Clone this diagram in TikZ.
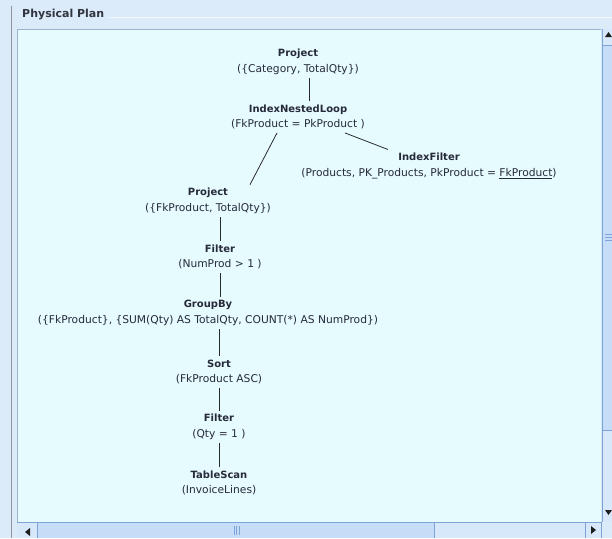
\documentclass[tikz,border=0pt]{standalone}
\usepackage{fontspec}
\setmainfont{DejaVu Sans}
\usepackage{tikz}

\definecolor{winbg}{HTML}{DCEBFA}
\definecolor{panelbg}{HTML}{E6FBFE}
\definecolor{panelline}{HTML}{9DB3CC}
\definecolor{framegray}{HTML}{8C939C}
\definecolor{titletext}{HTML}{30353F}
\definecolor{optext}{HTML}{262A3A}
\definecolor{linkcol}{HTML}{2A2A2A}
\definecolor{trackbg}{HTML}{D8E8FB}
\definecolor{thumbbg}{HTML}{C6DDF8}
\definecolor{thumbline}{HTML}{7EA3D8}
\definecolor{arrowcol}{HTML}{1E1E1E}

\newcommand{\opname}[1]{{\fontsize{10}{15.5}\selectfont\bfseries #1}}

\begin{document}
\begin{tikzpicture}[x=1pt, y=-1pt,
    op/.style={align=center, inner xsep=2pt, inner ysep=3.5pt, text=optext,
        font=\fontsize{10.7}{15.5}\selectfont},
    link/.style={draw=linkcol, line width=0.8pt}]

% Window frame
\useasboundingbox (0,0) rectangle (612,538);
\fill[winbg] (0,0) rectangle (612,538);
\draw[framegray] (11,6) -- (11,538);
\draw[white!60!winbg] (108,17) -- (612,17);
\node[anchor=west, inner sep=0pt, text=titletext,
    font=\bfseries\fontsize{11}{13}\selectfont] (title) at (22,15) {Physical Plan};
\fill[panelbg] (17,29) rectangle (601,522);
\draw[panelline] (17,522) -- (17,29) -- (601,29);

% Vertical scroll bar
\fill[trackbg] (601,29) rectangle (612,522);
\fill[thumbbg] (602,45) rectangle (612,430);
\draw[thumbline] (602,29) -- (602,522);
\draw[thumbline] (602,45) -- (612,45);
\draw[thumbline] (602,430) -- (612,430);
\foreach \y in {234,237,240}
    \draw[thumbline] (605,\y) -- (612,\y);
\fill[arrowcol] (608.5,32) -- (605,37) -- (612,37) -- cycle;
\fill[arrowcol] (605,510) -- (612,510) -- (608.5,515) -- cycle;

% Horizontal scroll bar
\fill[trackbg] (17,522) rectangle (601,538);
\fill[thumbbg] (37,523) rectangle (434,538);
\draw[thumbline] (17,522) -- (601,522);
\foreach \x in {37,434,585,601}
    \draw[thumbline] (\x,522) -- (\x,538);
\foreach \x in {234,236.5,239}
    \draw[thumbline] (\x,526) -- (\x,535);
\fill[winbg] (601.5,522.5) rectangle (612,538);
\fill[arrowcol] (25,532) -- (30,528) -- (30,536) -- cycle;
\fill[arrowcol] (596,530) -- (591,526) -- (591,534) -- cycle;

% Top part: Project, IndexNestedLoop, IndexFilter
\node[op] (proj1) at (298,62) {\opname{Project}\\(\{Category, TotalQty\})};
\node[op] (inl) at (298,117) {\opname{IndexNestedLoop}\\(FkProduct = PkProduct )};
\node[op] (ifilter) at (429,166) {\opname{IndexFilter}\\(Products, PK\_Products, PkProduct = \underline{FkProduct})};
\draw[link] ([xshift=11pt]proj1.south) -- ([xshift=11pt]inl.north);
\draw[link] ([xshift=47pt]inl.south) -- ([xshift=-41pt]ifilter.north);

% Bottom part: the chain down to TableScan
\node[op] (proj2) at (208,201) {\opname{Project}\\(\{FkProduct, TotalQty\})};
\node[op] (filt1) at (220,257) {\opname{Filter}\\(NumProd > 1 )};
\node[op] (grp) at (208,313) {\opname{GroupBy}\\(\{FkProduct\}, \{SUM(Qty) AS TotalQty, COUNT(*) AS NumProd\})};
\node[op] (sort) at (219,372) {\opname{Sort}\\(FkProduct ASC)};
\node[op] (filt2) at (219,427) {\opname{Filter}\\(Qty = 1 )};
\node[op] (scan) at (219,483) {\opname{TableScan}\\(InvoiceLines)};
\draw[link] ([xshift=-21pt]inl.south) -- ([xshift=42pt]proj2.north);
\draw[link] (proj2.south -| filt1) -- (filt1);
\draw[link] (filt1) -- (grp.north -| filt1);
\draw[link] (grp.south -| sort) -- (sort);
\draw[link] (sort) -- (filt2);
\draw[link] (filt2) -- (scan);
\end{tikzpicture}
\end{document}
